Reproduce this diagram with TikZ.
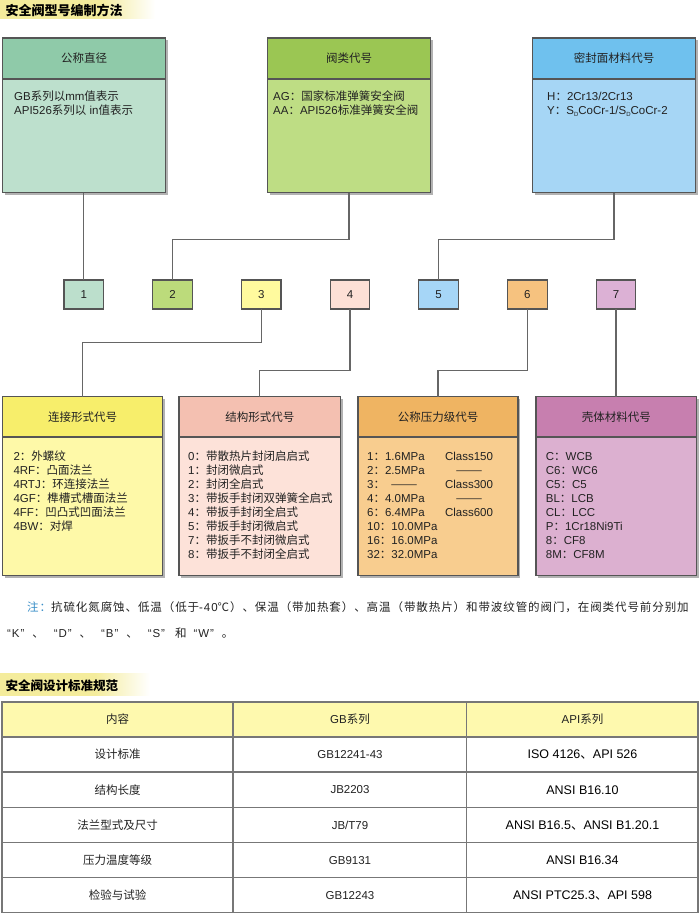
\documentclass[tikz,border=0pt]{standalone}
\usepackage{fontspec}
\usetikzlibrary{calc,shadows}
\setmainfont{Liberation Sans}
\newfontfamily\cjkfont{Noto Sans CJK SC}
\newfontfamily\cjkfontsp{Noto Sans CJK SC}[LetterSpace=8]
\newfontfamily\latfont{Liberation Sans}
\newfontfamily\latfontsp{Liberation Sans}[LetterSpace=8]
\newcommand\cjksw{\cjkfont}
\newcommand\latsw{\latfont}
\XeTeXinterchartokenstate=1
\newXeTeXintercharclass\CJKcls
\newcount\cjkcnt
\newcommand\setcjkrange[2]{\cjkcnt=#1\relax\loop\XeTeXcharclass\cjkcnt=\CJKcls\advance\cjkcnt by 1\relax\ifnum\cjkcnt<#2\relax\repeat}
\setcjkrange{"3000}{"3040}
\setcjkrange{"4E00}{"A000}
\setcjkrange{"FF00}{"FFF0}
\XeTeXcharclass"2014=\CJKcls
\XeTeXcharclass"2103=\CJKcls
\XeTeXinterchartoks 0 \CJKcls = {\cjksw}
\XeTeXinterchartoks 4095 \CJKcls = {\cjksw}
\XeTeXinterchartoks \CJKcls 0 = {\latsw}
\XeTeXinterchartoks \CJKcls 4095 = {\latsw}

\definecolor{bordc}{HTML}{555555}
\definecolor{connc}{HTML}{666666}
\definecolor{txt}{HTML}{222222}
\definecolor{hdrc}{HTML}{F4EC9C}
\definecolor{notec}{HTML}{3A8FC8}
\definecolor{tabh}{HTML}{FEF9AE}
\definecolor{tabl}{HTML}{777777}
\definecolor{tah}{HTML}{8FCAA9}\definecolor{tab}{HTML}{BDE0CD}
\definecolor{tbh}{HTML}{9BC653}\definecolor{tbb}{HTML}{BEDD84}
\definecolor{tch}{HTML}{6FC1EE}\definecolor{tcb}{HTML}{A6D6F5}
\definecolor{sa}{HTML}{BCDFCC}\definecolor{sb}{HTML}{BCDB7B}
\definecolor{sc}{HTML}{FFFA9E}\definecolor{sd}{HTML}{FDE0D6}
\definecolor{se}{HTML}{A6D6F7}\definecolor{sf}{HTML}{F6C27F}
\definecolor{sg}{HTML}{DCB1D5}
\definecolor{bah}{HTML}{F7EE6B}\definecolor{bab}{HTML}{FEF9A8}
\definecolor{bbh}{HTML}{F4C0B1}\definecolor{bbb}{HTML}{FDE2D9}
\definecolor{bch}{HTML}{EFB462}\definecolor{bcb}{HTML}{F8CD8F}
\definecolor{bdh}{HTML}{C77FAF}\definecolor{bdb}{HTML}{DCB0D0}

\tikzset{
  bdr/.style={draw=bordc, line width=1.2pt},
  bx/.style={anchor=north west, inner sep=0pt, outer sep=0pt, draw=bordc, line width=1.2pt,
    drop shadow={shadow xshift=2pt, shadow yshift=-2pt, fill=black!50, opacity=0.6}},
  smallbox/.style={anchor=north west, draw=bordc, line width=1.1pt, minimum width=39.5pt,
    minimum height=29pt, inner sep=0pt, outer sep=0pt, font=\fontsize{11.5}{14}\selectfont, text=txt},
  conn/.style={draw=connc, line width=1.2pt},
  ln/.style={anchor=base west, inner sep=0pt, font=\fontsize{11.5}{14}\selectfont, text=txt},
  lnc/.style={anchor=base, inner sep=0pt, font=\fontsize{11.5}{14}\selectfont, text=txt},
  ttl/.style={inner sep=0pt, font=\fontsize{11.5}{14}\selectfont, text=txt},
  cell/.style={inner sep=0pt, font=\fontsize{11.5}{14}\selectfont, text=txt},
  cellb/.style={inner sep=0pt, font=\fontsize{12.5}{14}\selectfont, text=black},
  sechead/.style={anchor=west, inner sep=0pt, text=black},
  notetxt/.style={anchor=base west, inner sep=0pt, text=txt,
    font=\fontsize{11.5}{14}\selectfont\renewcommand\cjksw{\cjkfontsp}\renewcommand\latsw{\latfontsp}\latfontsp},
}

\newcommand\longdash{\scalebox{1.4}[1]{——}}

% #1 name, #2 x, #3 y, #4 w, #5 h, #6 header h, #7 head colour, #8 body colour, #9 title
\newcommand\mkbox[9]{%
  \node[bx, fill=#8, minimum width=#4pt, minimum height=#5pt] (#1) at (#2,#3) {};
  \fill[#7] (#1.north west) rectangle ($(#1.north east)+(0,#6)$);
  \draw[bdr] (#1.north west) rectangle (#1.south east);
  \draw[bdr] ($(#1.north west)+(0,#6)$) -- ($(#1.north east)+(0,#6)$);
  \node[ttl] (#1t) at ($(#1.north)+(0,#6/2)$) {#9};
}

\begin{document}
\begin{tikzpicture}[x=1pt,y=-1pt]
\useasboundingbox (0,0) rectangle (700,913);
\fill[white] (0,0) rectangle (700,913);

% section header 1
\fill[hdrc] (0,0) rectangle (100,18.5);
\shade[left color=hdrc, right color=white] (100,0) rectangle (155,18.5);
\node[sechead, font=\bfseries\fontsize{13}{13}\selectfont] (H1) at (5.5,11) {安全阀型号编制方法};

% top boxes
\mkbox{T1}{2.5}{38}{163}{154.5}{41}{tah}{tab}{公称直径}
\mkbox{T2}{267.5}{38}{163}{154.5}{41}{tbh}{tbb}{阀类代号}
\mkbox{T3}{532.5}{38}{163}{154.5}{41}{tch}{tcb}{密封面材料代号}
\node[ln] (T1a) at (14,100.5) {GB系列以mm值表示};
\node[ln] (T1b) at (14,114.5) {API526系列以 in值表示};
\node[ln] (T2a) at (273,100.5) {AG：国家标准弹簧安全阀};
\node[ln] (T2b) at (273,114.5) {AA：API526标准弹簧安全阀};
\node[ln] (T3a) at (547,100.5) {H：2Cr13/2Cr13};
\node[ln] (T3b) at (547,114.5) {Y：S\raisebox{-1.5pt}{\fontsize{6}{6}\selectfont D}CoCr-1/S\raisebox{-1.5pt}{\fontsize{6}{6}\selectfont D}CoCr-2};

% small numbered boxes
\foreach \n/\xx/\c in {1/64/sa, 2/152.7/sb, 3/241.5/sc, 4/330.2/sd, 5/418.8/se, 6/507.6/sf, 7/596.3/sg}
  \node[smallbox, fill=\c] (s\n) at (\xx,280) {\n};

% bottom boxes
\mkbox{A}{2.5}{396.5}{160}{179}{40.5}{bah}{bab}{连接形式代号}
\mkbox{B}{179}{396.5}{161.5}{179}{40.5}{bbh}{bbb}{结构形式代号}
\mkbox{C}{358}{396.5}{160}{179}{40.5}{bch}{bcb}{公称压力级代号}
\mkbox{D}{536}{396.5}{160.5}{179}{40.5}{bdh}{bdb}{壳体材料代号}

\foreach \t [count=\i] in {2：外螺纹, 4RF：凸面法兰, 4RTJ：环连接法兰, 4GF：榫槽式槽面法兰, 4FF：凹凸式凹面法兰, 4BW：对焊}
  \node[ln] (Al\i) at (13.3,{460.5+14*(\i-1)}) {\t};
\foreach \t [count=\i] in {0：带散热片封闭启启式, 1：封闭微启式, 2：封闭全启式, 3：带扳手封闭双弹簧全启式, 4：带扳手封闭全启式, 5：带扳手封闭微启式, 7：带扳手不封闭微启式, 8：带扳手不封闭全启式}
  \node[ln] (Bl\i) at (188,{460.5+14*(\i-1)}) {\t};
\foreach \t [count=\i] in {1：1.6MPa, 2：2.5MPa, {3：\makebox[38pt][c]{\longdash}}, 4：4.0MPa, 6：6.4MPa, 10：10.0MPa, 16：16.0MPa, 32：32.0MPa}
  \node[ln] (Cl\i) at (367,{460.5+14*(\i-1)}) {\t};
\foreach \t [count=\i] in {Class150, \longdash, Class300, \longdash, Class600}
  \node[lnc] (Cr\i) at (469,{460.5+14*(\i-1)}) {\t};
\foreach \t [count=\i] in {C：WCB, C6：WC6, C5：C5, BL：LCB, CL：LCC, P：1Cr18Ni9Ti, 8：CF8, 8M：CF8M}
  \node[ln] (Dl\i) at (545.7,{460.5+14*(\i-1)}) {\t};

% connectors
\draw[conn] (s1.north |- T1.south) -- (s1.north);
\draw[conn] (T2.south) -- ++(0,46.8) -| (s2.north);
\draw[conn] (T3.south) -- ++(0,46.8) -| (s5.north);
\draw[conn] (s3.south) -- ++(0,33.3) -| (A.north);
\draw[conn] (s4.south) -- ++(0,61.7) -| (B.north);
\draw[conn] (s6.south) -- ++(0,61.7) -| (C.north);
\draw[conn] (s7.south) -- (s7.south |- D.north);

% note
\node[notetxt] (N1) at (27,611)
  {{\color{notec}注：}抗硫化氮腐蚀、低温（低于-40℃）、保温（带加热套）、高温（带散热片）和带波纹管的阀门，在阀类代号前分别加};
\node[notetxt] (N2) at (7,637.5)
  {“K”\hspace{8pt}、\hspace{10pt}“D”\hspace{8pt}、\hspace{10pt}“B”\hspace{8pt}、\hspace{10pt}“S”\hspace{10pt}和\hspace{7pt}“W”\hspace{8pt}。};

% section header 2
\fill[hdrc] (0,673) rectangle (95,695.5);
\shade[left color=hdrc, right color=white] (95,673) rectangle (150,695.5);
\node[sechead, font=\bfseries\fontsize{12.5}{12.5}\selectfont] (H2) at (5.5,686) {安全阀设计标准规范};

% table
\fill[tabh] (2,702) rectangle (698,737);
\draw[tabl, line width=1.2pt] (2,702) rectangle (698,912.3);
\foreach \yy in {737,772,807.5,842.5,877.5}
  \draw[tabl, line width=1.2pt] (2,\yy) -- (698,\yy);
\draw[tabl, line width=1.2pt] (233,702) -- (233,912.3);
\draw[tabl, line width=1.2pt] (466.5,702) -- (466.5,912.3);

\node[cell] (h1) at (117.5,719.5) {内容};
\node[cell] (h2) at (350,719.5) {GB系列};
\node[cell] (h3) at (582.5,719.5) {API系列};
\foreach \a/\b/\c [count=\i] in {设计标准/GB12241-43/ISO 4126、API 526, 结构长度/JB2203/ANSI B16.10, 法兰型式及尺寸/JB\slash T79/ANSI B16.5、ANSI B1.20.1, 压力温度等级/GB9131/ANSI B16.34, 检验与试验/GB12243/ANSI PTC25.3、API 598}
{
  \node[cell] (r\i a) at (117.5,{754.5+35.25*(\i-1)}) {\a};
  \node[cell] (r\i b) at (350,{754.5+35.25*(\i-1)}) {\b};
  \node[cellb] (r\i c) at (582.5,{754.5+35.25*(\i-1)}) {\c};
}
\end{tikzpicture}
\end{document}
